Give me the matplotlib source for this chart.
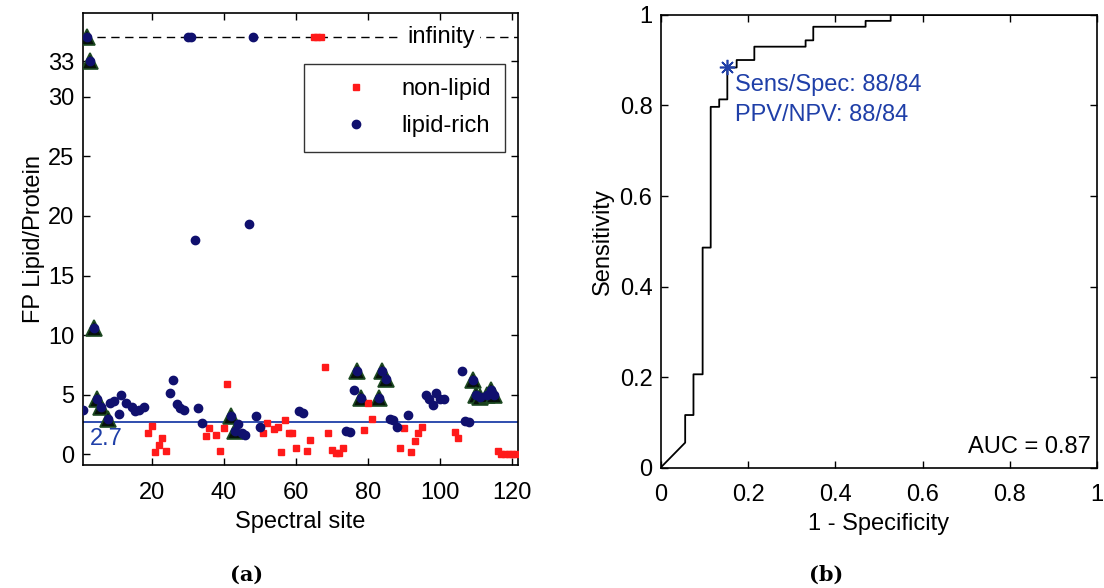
import matplotlib
matplotlib.use('Agg')
import matplotlib.pyplot as plt

plt.rcParams['font.family'] = ['Liberation Sans', 'DejaVu Sans']
plt.rcParams['font.size'] = 17

INF = 35          # where "infinity" values are drawn
threshold = 2.7

# ---- panel (a): FP lipid/protein per spectral site ----
nonlipid_site = [19, 20, 21, 22, 23, 24, 35, 36, 38, 39, 40, 41,
                 51, 52, 54, 55, 56, 57, 58, 59, 60, 63, 64, 65, 66, 67,
                 68, 69, 70, 71, 72, 73, 79, 80, 81, 89, 90, 92, 93, 94, 95,
                 104, 105, 116, 117, 118, 119, 120, 121]
nonlipid_fp = [1.8, 2.4, 0.15, 0.75, 1.35, 0.25, 1.5, 2.2, 1.6, 0.3, 2.2, 5.9,
               1.8, 2.6, 2.1, 2.3, 0.2, 2.9, 1.8, 1.8, 0.5, 0.3, 1.2, INF, INF, INF,
               7.3, 1.8, 0.4, 0.1, 0.1, 0.5, 2.0, 4.3, 2.95, 0.5, 2.2, 0.2, 1.1, 1.8, 2.3,
               1.9, 1.4, 0.3, 0.0, 0.0, 0.0, 0.0, 0.0]

lipid_site = [1, 2, 3, 4, 5, 6, 8, 8.5, 9.5, 11, 11.5, 13, 14.5, 15.5, 16.5, 18,
              25, 26, 27, 28, 29, 30, 31, 32, 33, 34, 42, 43, 44, 45, 46, 47, 48, 49, 50,
              61, 62, 74, 75, 76, 77, 78, 83, 84, 85, 86, 87, 88, 91,
              96, 97, 98, 99, 100, 101, 106, 107, 108, 109, 110, 111, 113, 114, 115]
lipid_fp = [3.75, INF, 33, 10.6, 4.6, 4.0, 3.0, 4.3, 4.5, 3.4, 5.0, 4.3, 4.0, 3.6, 3.7, 4.0,
            5.1, 6.2, 4.2, 3.9, 3.7, INF, INF, 18.0, 3.9, 2.65, 3.25, 1.95, 2.5, 1.8, 1.6, 19.3, INF, 3.2, 2.3,
            3.6, 3.5, 1.95, 1.9, 5.4, 7.0, 4.7, 4.7, 7.0, 6.3, 3.0, 2.9, 2.3, 3.3,
            5.0, 4.6, 4.1, 5.1, 4.6, 4.6, 7.0, 2.8, 2.7, 6.2, 5.0, 4.8, 5.0, 5.4, 5.0]

# misclassified sites, marked with triangles
flag_site = [2, 3, 4, 5, 6, 8, 42, 43, 77, 78, 83, 84, 85, 109, 110, 111, 113, 114, 115]
flag_fp = [INF, 33, 10.6, 4.6, 4.0, 3.0, 3.25, 1.95, 7.0, 4.7, 4.7, 7.0, 6.3,
           6.2, 5.0, 4.8, 5.0, 5.4, 5.0]

# ---- panel (b): ROC curve ----
roc_fpr = [0, 0.056, 0.056, 0.075, 0.075, 0.096, 0.096, 0.1145, 0.1145, 0.134, 0.134,
           0.1526, 0.1526, 0.174, 0.174, 0.2145, 0.2145, 0.332, 0.332, 0.3496, 0.3496,
           0.4695, 0.4695, 0.527, 0.527, 1.0]
roc_tpr = [0, 0.055, 0.116, 0.116, 0.206, 0.206, 0.486, 0.486, 0.797, 0.797, 0.8135,
           0.8135, 0.884, 0.884, 0.9005, 0.9005, 0.930, 0.930, 0.944, 0.944, 0.974,
           0.974, 0.987, 0.987, 1.0, 1.0]
op_fpr, op_tpr = 0.152, 0.884
auc = 0.87

RED = '#ff1a1a'
NAVY = '#10106e'
BLUE = '#1f3fa8'

fig = plt.figure(figsize=(11.04, 5.88), dpi=100)
ax1 = fig.add_axes([0.0749, 0.2092, 0.3943, 0.768])
ax2 = fig.add_axes([0.5985, 0.2049, 0.3952, 0.7696])

# left panel
ax1.plot([0.9, 121.6], [INF, INF], '--', color='black', lw=1.0, dashes=(6, 4), zorder=1)
ax1.text(100.2, INF, 'infinity', ha='center', va='center',
         bbox=dict(facecolor='white', edgecolor='none', pad=4), zorder=2)
ax1.axhline(threshold, color=BLUE, lw=1.3, zorder=1)
ax1.text(3, 1.3, '2.7', color=BLUE, ha='left', va='center')

ax1.plot(flag_site, flag_fp, '^', ms=12, mfc='#06120a', mec='#1d4a22', mew=1.2,
         ls='none', zorder=3)
ax1.plot(nonlipid_site, nonlipid_fp, 's', ms=5, color=RED, ls='none', zorder=4,
         label='non-lipid')
ax1.plot(lipid_site, lipid_fp, 'o', ms=6, color=NAVY, ls='none', zorder=4,
         label='lipid-rich')

ax1.set_xlim(0.9, 121.6)
ax1.set_ylim(-0.9, 37)
ax1.set_xticks([20, 40, 60, 80, 100, 120])
ax1.set_yticks([0, 5, 10, 15, 20, 25, 30, 33])
ax1.set_xlabel('Spectral site', labelpad=5)
ax1.set_ylabel('FP Lipid/Protein', labelpad=2)
ax1.tick_params(direction='in', top=True, right=True, length=5, width=1, pad=6)
ax1.tick_params(axis='x', pad=12)
leg = ax1.legend(loc='upper right', bbox_to_anchor=(0.97, 0.888), frameon=True,
                 fancybox=False, edgecolor='black', handlelength=3.2,
                 borderpad=0.6, labelspacing=0.65, handletextpad=0.3,
                 borderaxespad=0)
leg.get_frame().set_linewidth(1.0)

# right panel
ax2.plot(roc_fpr, roc_tpr, color='black', lw=1.3)
ax2.plot(op_fpr, op_tpr, marker=(8, 2, 0), ms=11, color=BLUE, mew=1.2, ls='none')
ax2.text(op_fpr + 0.018, 0.845, 'Sens/Spec: 88/84', color=BLUE, ha='left', va='center')
ax2.text(op_fpr + 0.018, 0.78, 'PPV/NPV: 88/84', color=BLUE, ha='left', va='center')
ax2.text(0.985, 0.045, 'AUC = %.2f' % auc, ha='right', va='center')
ax2.set_xlim(0, 1)
ax2.set_ylim(0, 1)
ax2.set_xticks([0, 0.2, 0.4, 0.6, 0.8, 1])
ax2.set_xticklabels(['0', '0.2', '0.4', '0.6', '0.8', '1'])
ax2.set_yticks([0, 0.2, 0.4, 0.6, 0.8, 1])
ax2.set_yticklabels(['0', '0.2', '0.4', '0.6', '0.8', '1'])
ax2.set_xlabel('1 - Specificity', labelpad=5)
ax2.set_ylabel('Sensitivity', labelpad=4)
ax2.tick_params(direction='in', top=True, right=True, length=5, width=1, pad=6)
ax2.tick_params(axis='x', pad=12)

for ax in (ax1, ax2):
    for s in ax.spines.values():
        s.set_linewidth(1.2)

fig.text(0.223, 0.022, '(a)', ha='center', va='center', family='DejaVu Serif',
         fontweight='bold', fontsize=15)
fig.text(0.748, 0.022, '(b)', ha='center', va='center', family='DejaVu Serif',
         fontweight='bold', fontsize=15)

fig.savefig('out.png', dpi=100)
